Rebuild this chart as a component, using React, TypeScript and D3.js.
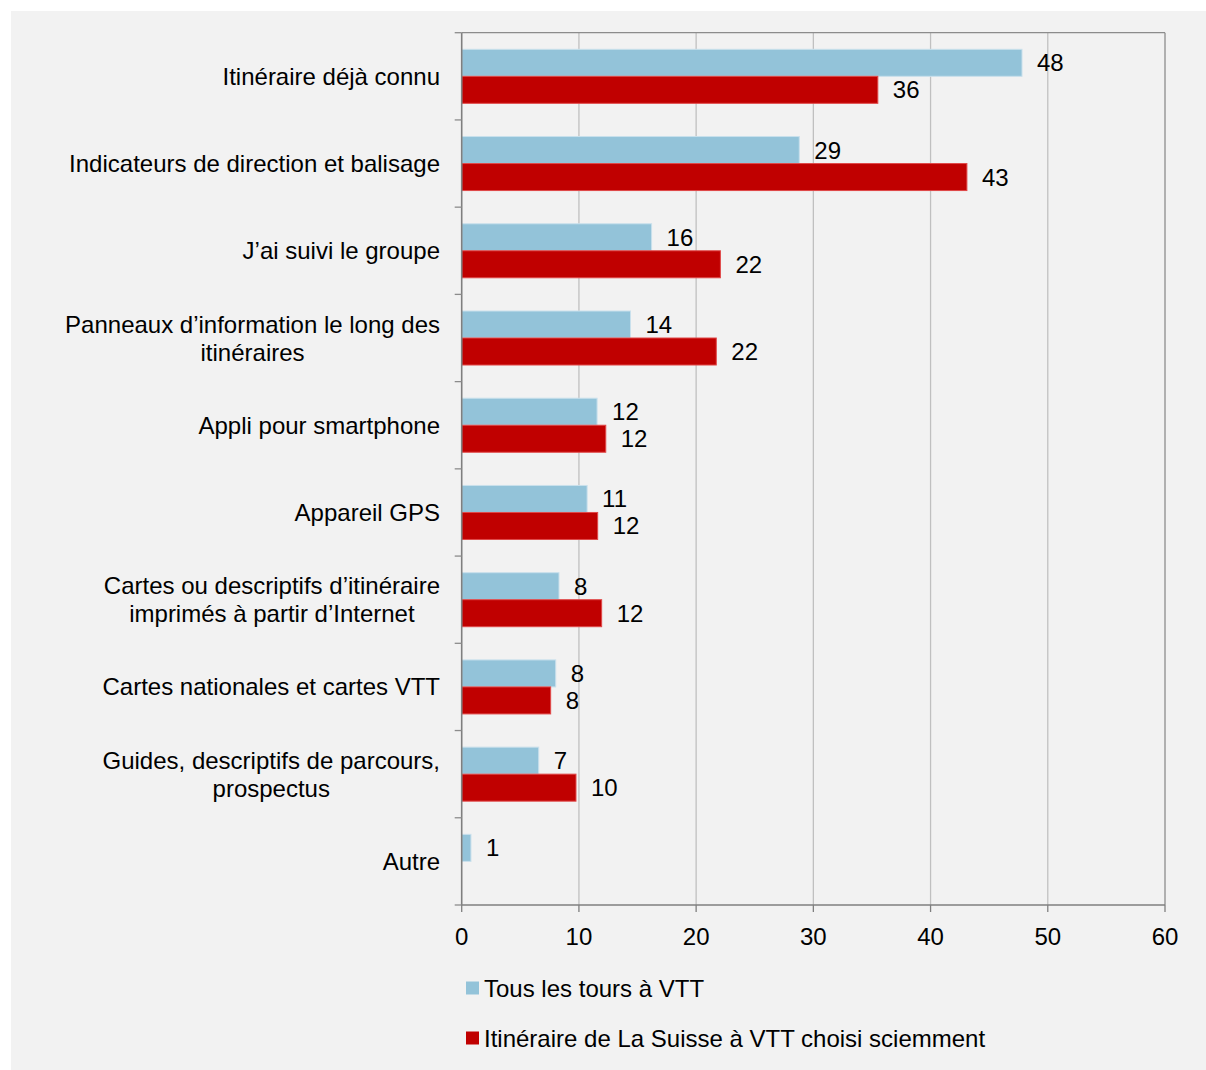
import React from "react";
import * as d3 from "d3";

const categories: string[][] = [
  ["Itinéraire déjà connu"],
  ["Indicateurs de direction et balisage"],
  ["J’ai suivi le groupe"],
  ["Panneaux d’information le long des", "itinéraires"],
  ["Appli pour smartphone"],
  ["Appareil GPS"],
  ["Cartes ou descriptifs d’itinéraire", "imprimés à partir d’Internet"],
  ["Cartes nationales et cartes VTT"],
  ["Guides, descriptifs de parcours,", "prospectus"],
  ["Autre"],
];
const tousValues: number[] = [47.8, 28.8, 16.2, 14.4, 11.55, 10.7, 8.3, 8.02, 6.57, 0.79];
const suisseValues: (number | null)[] = [35.5, 43.1, 22.07, 21.72, 12.29, 11.6, 11.94, 7.59, 9.75, null];
const xTicks: number[] = [0, 10, 20, 30, 40, 50, 60];
const seriesNames: string[] = ["Tous les tours à VTT", "Itinéraire de La Suisse à VTT choisi sciemment"];
const seriesColors: string[] = ["#93c3d9", "#c00000"];
const seriesStrokes: string[] = ["#c9e0ec", "#e04848"];

const W = 1206;
const H = 1070;
const left = 461.7;
const right = 1165;
const top = 32.7;
const bottom = 905;
const FONT = "Liberation Sans, Arial, sans-serif";
const FS = 24;

export default function App() {
  const x = d3.scaleLinear().domain([0, 60]).range([left, right]);
  const y = d3
    .scaleBand<number>()
    .domain(categories.map((_, i) => i))
    .range([top, bottom])
    .padding(0);
  const bw = y.bandwidth();
  const sub = d3
    .scaleBand<number>()
    .domain([0, 1])
    .range([0, bw])
    .paddingInner(0)
    .paddingOuter(0.615);
  const series = [tousValues, suisseValues];
  const boundaries = d3.range(categories.length + 1).map((i) => top + i * bw);

  return (
    <svg
      width={W}
      height={H}
      style={{ position: "absolute", left: 0, top: 0, display: "block" }}
      fontFamily={FONT}
    >
      <rect x={0} y={0} width={W} height={H} fill="#ffffff" />
      <rect x={11} y={11} width={W - 11} height={H - 11} fill="#f2f2f2" />

      {/* gridlines */}
      {xTicks.slice(1, -1).map((t) => (
        <line key={"g" + t} x1={x(t)} x2={x(t)} y1={top} y2={bottom} stroke="#c0c0c0" strokeWidth={1.3} />
      ))}
      {/* plot border top/right */}
      <line x1={left} x2={right} y1={top} y2={top} stroke="#8c8c8c" strokeWidth={1.3} />
      <line x1={right} x2={right} y1={top} y2={bottom} stroke="#8c8c8c" strokeWidth={1.3} />

      {/* bars */}
      {series.map((vals, s) =>
        vals.map((v, i) =>
          v == null ? null : (
            <rect
              key={`b${s}-${i}`}
              x={x(0)}
              y={(y(i) as number) + (sub(s) as number)}
              width={x(v) - x(0)}
              height={sub.bandwidth()}
              fill={seriesColors[s]}
              stroke={seriesStrokes[s]}
              strokeWidth={1}
            />
          )
        )
      )}

      {/* value labels */}
      {series.map((vals, s) =>
        vals.map((v, i) =>
          v == null ? null : (
            <text
              key={`l${s}-${i}`}
              x={x(v) + 15}
              y={(y(i) as number) + (sub(s) as number) + sub.bandwidth() / 2 + 8.5}
              fontSize={FS}
              fill="#000"
            >
              {Math.round(v)}
            </text>
          )
        )
      )}

      {/* left axis */}
      <line x1={left} x2={left} y1={top} y2={bottom} stroke="#7f7f7f" strokeWidth={1.6} />
      {boundaries.map((b, i) => (
        <line key={"lt" + i} x1={left - 7} x2={left} y1={b} y2={b} stroke="#8c8c8c" strokeWidth={1.3} />
      ))}
      {/* bottom axis */}
      <line x1={left} x2={right} y1={bottom} y2={bottom} stroke="#7f7f7f" strokeWidth={1.6} />
      {xTicks.map((t) => (
        <g key={"xt" + t}>
          <line x1={x(t)} x2={x(t)} y1={bottom} y2={bottom + 7} stroke="#7f7f7f" strokeWidth={1.3} />
          <text x={x(t)} y={bottom + 40} textAnchor="middle" fontSize={FS} fill="#000">
            {t}
          </text>
        </g>
      ))}

      {/* category labels */}
      {categories.map((lines, i) => {
        const cy = (y(i) as number) + bw / 2;
        const lh = 28;
        if (lines.length === 1) {
          return (
            <text key={"c" + i} x={440} y={cy + 8.5} textAnchor="end" fontSize={FS} fill="#000">
              {lines[0]}
            </text>
          );
        }
        return <CenteredBlock key={"c" + i} lines={lines} right={440} cy={cy} lh={lh} />;
      })}

      {/* legend */}
      {seriesNames.map((n, s) => {
        const ly = 988 + s * 50;
        return (
          <g key={"lg" + s}>
            <rect x={466} y={ly - 6.5} width={13} height={13} fill={seriesColors[s]} />
            <text x={484} y={ly + 8.5} fontSize={FS} fill="#000">
              {n}
            </text>
          </g>
        );
      })}
    </svg>
  );
}

function measure(text: string): number {
  if (typeof document === "undefined") return text.length * FS * 0.5;
  const c = document.createElement("canvas");
  const ctx = c.getContext("2d");
  if (!ctx) return text.length * FS * 0.5;
  ctx.font = `${FS}px ${FONT}`;
  return ctx.measureText(text).width;
}

function CenteredBlock({ lines, right, cy, lh }: { lines: string[]; right: number; cy: number; lh: number }) {
  const widths = lines.map(measure);
  const maxW = Math.max(...widths);
  const cx = right - maxW / 2;
  const n = lines.length;
  return (
    <g>
      {lines.map((l, k) => (
        <text
          key={k}
          x={cx}
          y={cy + (k - (n - 1) / 2) * lh + 8.5}
          textAnchor="middle"
          fontSize={FS}
          fill="#000"
        >
          {l}
        </text>
      ))}
    </g>
  );
}
